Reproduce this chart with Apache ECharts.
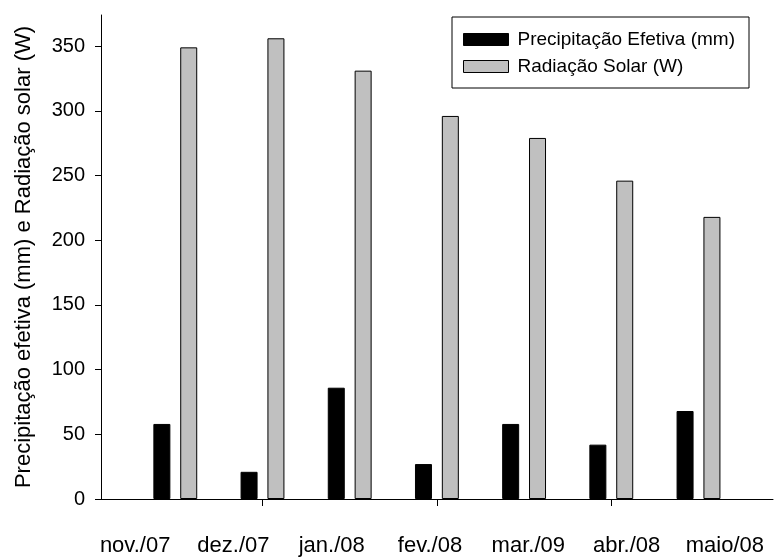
<!DOCTYPE html>
<html>
<head>
<meta charset="utf-8">
<script src="https://cdn.jsdelivr.net/npm/echarts@6/dist/echarts.min.js"></script>
<style>html,body{margin:0;padding:0;background:#fff}#c{width:774px;height:557px}</style>
</head>
<body>
<div id="c"></div>
<script>
var categories = ['nov./07', 'dez./07', 'jan./08', 'fev./08', 'mar./09', 'abr./08', 'maio/08'];
var precipitacao = [58, 21, 86, 27, 58, 42, 68];
var radiacao = [349, 356, 331, 296, 279, 246, 218];
var seriesNames = ['Precipitação Efetiva (mm)', 'Radiação Solar (W)'];
var yTitle = 'Precipitação efetiva (mm) e Radiação solar (W)';

var FONT = 'Liberation Sans, Arial, sans-serif';
var chart = echarts.init(document.getElementById('c'), null, {renderer: 'canvas'});
var yMax = 374;
chart.setOption({
  animation: false,
  backgroundColor: '#fff',
  textStyle: {fontFamily: FONT, color: '#000'},
  legend: {
    orient: 'vertical',
    left: 452,
    top: 17,
    padding: [13, 14, 12, 11],
    borderColor: '#000',
    borderWidth: 1,
    itemWidth: 45,
    itemHeight: 12,
    itemGap: 8,
    selectedMode: false,
    textStyle: {fontFamily: FONT, fontSize: 19, color: '#000', padding: [0, 0, 0, 4]},
    data: [
      {name: seriesNames[0], icon: 'rect', itemStyle: {color: '#000', borderColor: '#000', borderWidth: 1}},
      {name: seriesNames[1], icon: 'rect', itemStyle: {color: '#c0c0c0', borderColor: '#000', borderWidth: 1}}
    ]
  },
  grid: [
    {left: 101, right: 1, top: 15, bottom: 58},
    {left: 131.7, right: 31.9, top: 15, bottom: 58},
    {left: 86, right: 0, top: 15, bottom: 58}
  ],
  xAxis: [
    {
      gridIndex: 0, type: 'value', min: 0, max: 1,
      axisLine: {show: true, lineStyle: {color: '#000', width: 1}},
      axisTick: {show: false}, axisLabel: {show: false}, splitLine: {show: false}
    },
    {
      gridIndex: 1, type: 'category', data: categories,
      axisLine: {show: false},
      axisTick: {show: true, alignWithLabel: true, length: 7, lineStyle: {color: '#000', width: 1},
        interval: function (i) { return i % 2 === 1; }},
      axisLabel: {show: false},
      splitLine: {show: false}
    },
    {
      gridIndex: 2, type: 'category', data: categories,
      axisLine: {show: false}, axisTick: {show: false},
      axisLabel: {fontFamily: FONT, fontSize: 22, color: '#000', margin: 36, interval: 0},
      splitLine: {show: false}
    }
  ],
  yAxis: [
    {
      gridIndex: 0, type: 'value', min: 0, max: yMax, interval: 50,
      name: yTitle, nameLocation: 'middle', nameRotate: 90, nameGap: 66,
      nameTextStyle: {fontFamily: FONT, fontSize: 22, color: '#000'},
      axisLine: {show: true, lineStyle: {color: '#000', width: 1}},
      axisTick: {show: true, inside: false, length: 6, lineStyle: {color: '#000', width: 1}},
      axisLabel: {fontFamily: FONT, fontSize: 20, color: '#000', margin: 16, showMaxLabel: false},
      splitLine: {show: false}
    },
    {
      gridIndex: 1, type: 'value', min: 0, max: yMax, show: false, splitLine: {show: false}
    },
    {
      gridIndex: 2, type: 'value', min: 0, max: yMax, show: false, splitLine: {show: false}
    }
  ],
  series: [
    {
      name: seriesNames[0], type: 'bar', xAxisIndex: 1, yAxisIndex: 1,
      data: precipitacao, barWidth: 17, barGap: '58%',
      itemStyle: {color: '#000', borderColor: '#000', borderWidth: 1}
    },
    {
      name: seriesNames[1], type: 'bar', xAxisIndex: 1, yAxisIndex: 1,
      data: radiacao, barWidth: 17, barGap: '58%',
      itemStyle: {color: '#c0c0c0', borderColor: '#000', borderWidth: 1}
    }
  ]
});
</script>
</body>
</html>
